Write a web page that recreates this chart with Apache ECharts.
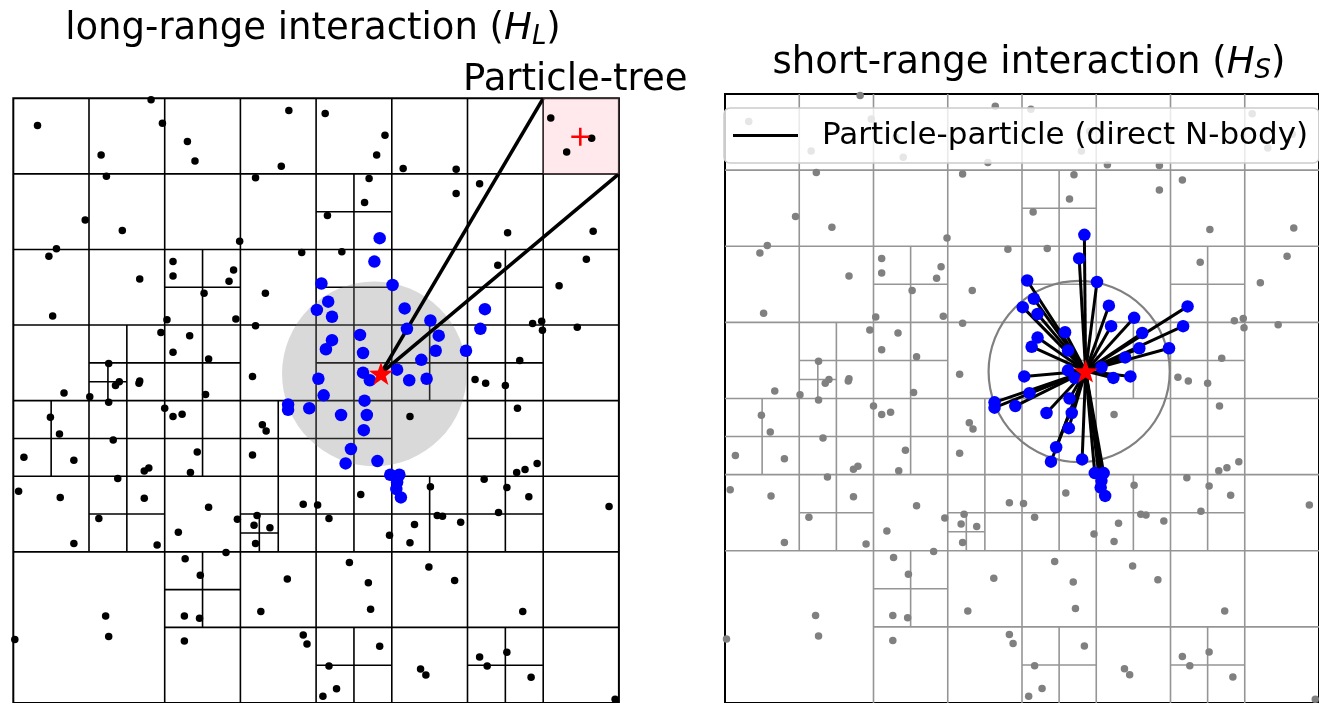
<!DOCTYPE html>
<html>
<head>
<meta charset="utf-8">
<script src="https://cdn.jsdelivr.net/npm/echarts@6/dist/echarts.min.js"></script>
<style>html,body{margin:0;padding:0;background:#fff}#c{width:1319px;height:703px}</style>
</head>
<body>
<div id="c"></div>
<script>
// ---- data (cell units, domain 0..8, y measured downward) ----
const treeSplits = [
  [0,0,8],
  [0,0,4],[4,0,4],[0,4,4],[4,4,4],
  [0,0,2],[2,0,2],[4,0,2],[6,0,2],[0,2,2],[2,2,2],[4,2,2],[6,2,2],
  [0,4,2],[2,4,2],[4,4,2],[6,4,2],[2,6,2],[4,6,2],[6,6,2],
  [4,1,1],[2,2,1],[4,2,1],[6,2,1],[1,3,1],[2,3,1],[4,3,1],[5,3,1],[6,3,1],
  [0,4,1],[1,4,1],[2,4,1],[3,4,1],[4,4,1],[6,4,1],
  [1,5,1],[3,5,1],[4,5,1],[5,5,1],[6,5,1],
  [2,6,1],[4,7,1],[6,7,1],
  [1,3.5,0.5],[3,5.5,0.5]
];
const farParticles = [
  [1.82,0.02],[0.32,0.36],[1.97,0.33],[3.64,0.16],[4.12,0.20],[2.30,0.57],[1.16,0.75],[2.40,0.83],
  [3.54,0.90],[1.23,1.03],[3.20,1.05],[4.15,1.55],[0.95,1.61],[1.44,1.75],[2.99,1.89],[0.57,1.99],
  [0.47,2.09],[3.81,2.04],[2.11,2.16],[2.11,2.35],[2.91,2.27],[2.85,2.42],[1.67,2.39],[2.52,2.58],
  [3.33,2.58],[0.52,2.88],[2.03,2.93],[2.94,2.92],[3.20,3.01],[1.95,3.10],[2.33,3.14],[2.11,3.36],
  [2.58,3.45],[1.26,3.51],[3.16,3.68],[1.40,3.75],[1.35,3.80],[1.67,3.74],[1.66,3.77],[0.67,3.90],
  [1.01,3.95],[2.54,3.92],
  [1.26,4.02],[2.00,4.10],[2.11,4.21],[2.23,4.18],[0.49,4.22],[0.61,4.44],[3.29,4.32],[3.34,4.40],
  [1.32,4.52],[0.14,4.75],[0.80,4.79],[2.43,4.68],[3.16,4.72],[1.73,4.93],[1.79,4.89],[2.34,4.95],
  [1.38,5.03],[0.07,5.20],[0.62,5.28],[1.73,5.29],[2.58,5.41],[3.83,5.37],[4.02,5.38],[1.13,5.56],
  [2.96,5.57],[3.22,5.52],[3.18,5.65],[3.39,5.68],[4.17,5.56],[2.18,5.74],[3.20,5.89],[0.80,5.89],
  [1.90,5.91],[2.81,6.01],[2.27,6.09],[2.47,6.31],[3.62,6.36],[1.22,6.85],[2.26,6.85],[2.46,6.88],
  [3.27,6.79],[0.02,7.16],[1.26,7.12],[2.26,7.18],[3.83,7.10],[3.88,7.22],[4.17,7.51],[4.09,7.91],
  [6.66,4.10],[5.24,4.21],[6.92,4.83],[6.76,4.91],[6.65,4.95],[6.22,5.04],[6.52,5.15],[6.81,5.27],
  [5.51,5.14],[4.59,5.24],[5.60,5.52],[5.67,5.53],[6.41,5.48],[5.91,5.61],[5.30,5.64],[4.97,5.78],
  [5.24,5.88],[7.87,5.40],[4.44,6.14],[5.49,6.20],[5.83,6.38],[4.69,6.41],[4.72,6.76],[6.73,6.79],
  [4.84,7.25],[6.16,7.39],[6.52,7.33],[6.26,7.51],[5.38,7.55],[5.45,7.63],[6.84,7.66],[4.27,7.81],
  [7.95,7.95],
  [4.91,0.49],[4.80,0.75],[5.15,0.93],[5.85,0.94],[4.70,1.06],[6.16,1.13],[5.85,1.26],[4.64,1.38],
  [6.53,1.78],[7.66,1.76],[4.34,2.03],[6.40,2.21],[7.57,2.13],[7.21,2.48],[6.86,2.98],[6.98,2.95],
  [6.99,3.07],[7.45,3.03],[6.69,3.47],[6.10,3.72],[6.24,3.77],[6.50,3.80],
  [7.10,0.26],[7.31,0.71],[7.64,0.53]
];
const nearParticles = [
  [4.84,1.85],[4.77,2.16],[4.07,2.45],[5.01,2.47],[4.16,2.69],[4.01,2.80],[4.21,2.89],[5.17,2.78],
  [6.23,2.79],[5.51,2.94],[6.17,3.05],[5.20,3.05],[5.62,3.14],[4.58,3.13],[4.21,3.20],[4.13,3.32],
  [4.62,3.37],[5.58,3.34],[5.98,3.34],[5.39,3.46],[5.07,3.59],[4.62,3.63],[4.71,3.73],[5.23,3.73],
  [5.46,3.71],[4.03,3.71],[4.10,3.93],[4.64,4.00],[3.91,4.10],[4.33,4.19],[4.67,4.19],[4.63,4.39],
  [4.46,4.64],[4.39,4.83],[4.81,4.80],[4.98,4.98],[5.10,4.98],[5.07,5.08],[5.06,5.17],[5.12,5.28],
  [3.63,4.05],[3.63,4.12]
];
const targetParticle = [4.857, 3.64];
const searchCircle = [[4.77, 3.645, 1.22]];
const treeNode = [[7, 0, 1]];
const treeNodeCenter = [7.49, 0.51];
const ppLabel = 'Particle-particle (direct N-body)';

// ---- chart ----
const chart = echarts.init(document.getElementById('c'), null, {renderer: 'canvas'});
const FONT = 'DejaVu Sans';
const STAR = 'path://M0,-10 L2.35,-3.24 L9.51,-3.09 L3.8,1.24 L5.88,8.09 L0,4 L-5.88,8.09 L-3.8,1.24 L-9.51,-3.09 L-2.35,-3.24 Z';
const PLUS = 'path://M-1.4,-10 L1.4,-10 L1.4,-1.4 L10,-1.4 L10,1.4 L1.4,1.4 L1.4,10 L-1.4,10 L-1.4,1.4 L-10,1.4 L-10,-1.4 L-1.4,-1.4 Z';

function treeSeries(idx, color, width) {
  return {
    type: 'custom', xAxisIndex: idx, yAxisIndex: idx, data: treeSplits, silent: true,
    encode: {x: 0, y: 1},
    renderItem: function (params, api) {
      const x = api.value(0), y = api.value(1), s = api.value(2);
      const a = api.coord([x, y + s / 2]), b = api.coord([x + s, y + s / 2]);
      const c = api.coord([x + s / 2, y]), d = api.coord([x + s / 2, y + s]);
      const st = {stroke: color, lineWidth: width, fill: null};
      return {type: 'group', children: [
        {type: 'line', shape: {x1: a[0], y1: a[1], x2: b[0], y2: b[1]}, style: st},
        {type: 'line', shape: {x1: c[0], y1: c[1], x2: d[0], y2: d[1]}, style: st}
      ]};
    }
  };
}
function circleSeries(idx, style) {
  return {
    type: 'custom', xAxisIndex: idx, yAxisIndex: idx, data: searchCircle, silent: true,
    encode: {x: 0, y: 1},
    renderItem: function (params, api) {
      const c = api.coord([api.value(0), api.value(1)]);
      const r = api.size([api.value(2), 0])[0];
      return {type: 'circle', shape: {cx: c[0], cy: c[1], r: r}, style: style};
    }
  };
}
function grid(left, top, size) {
  return {left: left, top: top, width: size, height: size, show: true, borderColor: '#000', borderWidth: 2, backgroundColor: 'transparent'};
}
const ax = (i) => ({gridIndex: i, type: 'value', min: 0, max: 8, show: false});
const ay = (i) => ({gridIndex: i, type: 'value', min: 0, max: 8, inverse: true, show: false});
const dot = (idx, data, size, color) => ({type: 'scatter', xAxisIndex: idx, yAxisIndex: idx, data: data, symbolSize: size,
  itemStyle: {color: color, opacity: 1}, silent: true});
const richTitle = {
  n: {fontSize: 37, fontFamily: FONT, fill: '#000', lineHeight: 42},
  i: {fontSize: 37, fontFamily: FONT, fontStyle: 'italic', fill: '#000', lineHeight: 42},
  s: {fontSize: 26, fontFamily: FONT, fontStyle: 'italic', fill: '#000', lineHeight: 26, verticalAlign: 'bottom'}
};

const option = {
  animation: false,
  grid: [grid(13.3, 98.3, 605.6), grid(725, 94, 609)],
  xAxis: [ax(0), ax(1)],
  yAxis: [ay(0), ay(1)],
  legend: {
    left: 724, top: 108,
    padding: [12, 11, 12, 9],
    itemWidth: 65, itemHeight: 3,
    backgroundColor: 'rgba(255,255,255,0.8)',
    borderColor: '#cccccc', borderWidth: 1.5, borderRadius: 6,
    textStyle: {fontSize: 31, fontFamily: FONT, color: '#000', padding: [2, 0, 0, 19]},
    data: [{name: ppLabel, icon: 'rect', itemStyle: {color: '#000'}}],
    selectedMode: false
  },
  graphic: [
    {type: 'text', x: 313, y: 29, style: {
      text: '{n|long-range interaction (}{i|H}{s|L}{n|)}', align: 'center', verticalAlign: 'middle', rich: richTitle}},
    {type: 'text', x: 1029, y: 63, style: {
      text: '{n|short-range interaction (}{i|H}{s|S}{n|)}', align: 'center', verticalAlign: 'middle', rich: richTitle}},
    {type: 'text', x: 463, y: 80, style: {text: 'Particle-tree', fontSize: 37, fontFamily: FONT, fill: '#000', align: 'left', verticalAlign: 'middle'}}
  ],
  series: [
    // ---- left panel ----
    treeSeries(0, '#000', 1.6),
    dot(0, farParticles, 7.5, '#000'),
    dot(0, nearParticles, 12.5, '#0000ff'),
    circleSeries(0, {fill: 'rgba(128,128,128,0.3)', stroke: null}),
    {
      type: 'custom', xAxisIndex: 0, yAxisIndex: 0, data: treeNode, silent: true, encode: {x: 0, y: 1},
      renderItem: function (params, api) {
        const x = api.value(0), y = api.value(1), s = api.value(2);
        const o = api.coord(targetParticle), p1 = api.coord([x, y]), p2 = api.coord([x + s, y + s]);
        const st = {stroke: '#000', lineWidth: 3.6, fill: null};
        return {type: 'group', children: [
          {type: 'line', shape: {x1: o[0], y1: o[1], x2: p1[0], y2: p1[1]}, style: st},
          {type: 'line', shape: {x1: o[0], y1: o[1], x2: p2[0], y2: p2[1]}, style: st}
        ]};
      }
    },
    {
      type: 'custom', xAxisIndex: 0, yAxisIndex: 0, data: treeNode, silent: true, encode: {x: 0, y: 1},
      renderItem: function (params, api) {
        const x = api.value(0), y = api.value(1), s = api.value(2);
        const p1 = api.coord([x, y]), p2 = api.coord([x + s, y + s]);
        return {type: 'rect', shape: {x: p1[0], y: p1[1], width: p2[0] - p1[0], height: p2[1] - p1[1]},
          style: {fill: 'rgba(255,182,193,0.3)', stroke: null}};
      }
    },
    {type: 'scatter', xAxisIndex: 0, yAxisIndex: 0, data: [treeNodeCenter], symbol: PLUS, symbolSize: 18, itemStyle: {color: '#ff0000', opacity: 1}, silent: true},
    {type: 'scatter', xAxisIndex: 0, yAxisIndex: 0, data: [targetParticle], symbol: STAR, symbolSize: [24, 23], itemStyle: {color: '#ff0000', opacity: 1}, silent: true, z: 5},
    // ---- right panel ----
    treeSeries(1, '#959595', 1.6),
    dot(1, farParticles, 7.5, '#808080'),
    circleSeries(1, {fill: null, stroke: '#808080', lineWidth: 2.2}),
    {
      name: ppLabel,
      type: 'custom', xAxisIndex: 1, yAxisIndex: 1, data: nearParticles, silent: true, encode: {x: 0, y: 1},
      itemStyle: {color: '#000'},
      renderItem: function (params, api) {
        const o = api.coord(targetParticle), p = api.coord([api.value(0), api.value(1)]);
        return {type: 'line', shape: {x1: o[0], y1: o[1], x2: p[0], y2: p[1]}, style: {stroke: '#000', lineWidth: 3, fill: null}};
      }
    },
    dot(1, nearParticles, 12.5, '#0000ff'),
    {type: 'scatter', xAxisIndex: 1, yAxisIndex: 1, data: [targetParticle], symbol: STAR, symbolSize: [24, 23], itemStyle: {color: '#ff0000', opacity: 1}, silent: true, z: 5}
  ]
};
chart.setOption(option);
</script>
</body>
</html>
